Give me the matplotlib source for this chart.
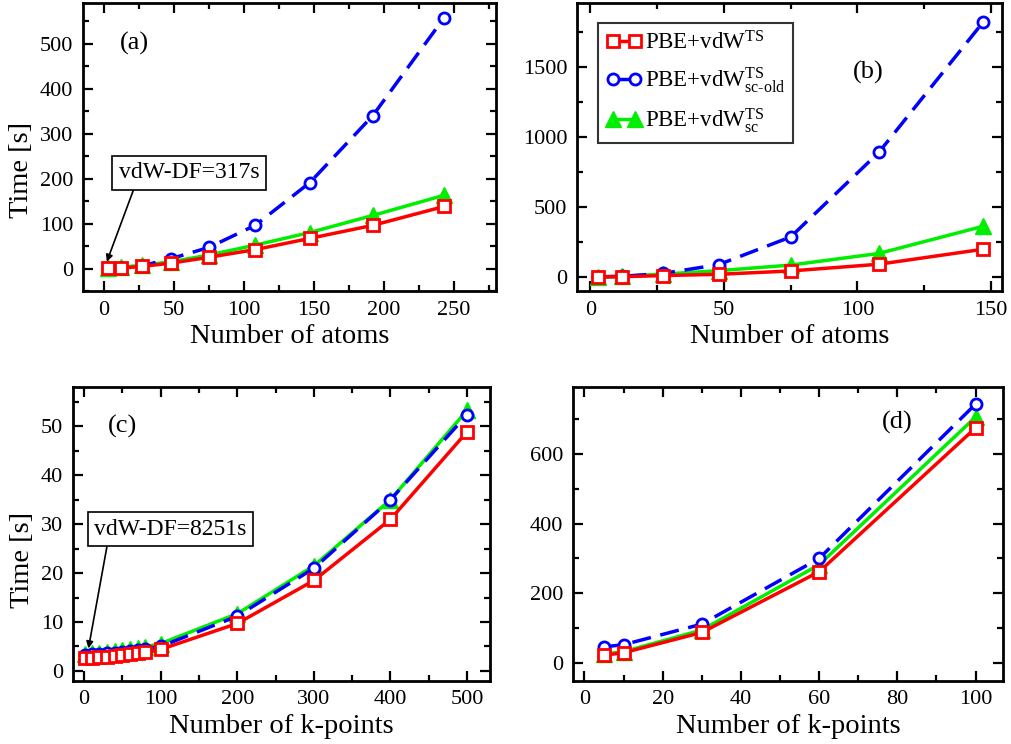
import numpy as np
import matplotlib
matplotlib.use("Agg")
import matplotlib.pyplot as plt
from matplotlib.ticker import MultipleLocator

plt.rcParams['font.family'] = ['Liberation Serif', 'DejaVu Serif']
plt.rcParams['mathtext.fontset'] = 'custom'
plt.rcParams['mathtext.rm'] = 'Liberation Serif'
plt.rcParams['mathtext.it'] = 'Liberation Serif:italic'

# ---- timings vs. number of atoms ----
atoms_a = [3, 12, 27, 48, 75, 108, 147, 192, 243]
a_ts = [0.3, 1, 4.5, 12, 25, 42, 67, 96, 138]
a_scold = [0.3, 1.5, 6, 22, 47, 96, 191, 340, 558]
a_sc = [0.5, 3, 7, 15, 30, 52, 80, 118, 163]

atoms_b = [3, 12, 27, 48, 75, 108, 147]
b_ts = [0.5, 2, 10, 19, 43, 91, 198]
b_scold = [1, 5, 25, 88, 286, 890, 1819]
b_sc = [1, 5, 20, 45, 85, 168, 362]

# ---- timings vs. number of k-points ----
kpts_c = [1, 10, 20, 30, 40, 50, 60, 70, 80, 100, 200, 300, 400, 500]
c_ts = [2.6, 2.7, 2.8, 2.9, 3.0, 3.2, 3.4, 3.6, 3.8, 4.4, 9.7, 18.5, 31, 48.9]
c_scold = [3.3, 3.4, 3.5, 3.6, 3.7, 3.8, 4.0, 4.2, 4.5, 5.0, 11.2, 21, 35, 52.4]
c_sc = [3.4, 3.6, 3.7, 3.8, 4.0, 4.2, 4.4, 4.6, 4.9, 5.6, 11.7, 21.5, 35, 53.3]

kpts_d = [5, 10, 30, 60, 100]
d_ts = [23, 30, 88, 262, 674]
d_scold = [47, 53, 112, 300, 742]
d_sc = [26, 33, 95, 282, 705]

labels = [r'PBE+vdW$^{\mathrm{TS}}$',
          r'PBE+vdW$^{\mathrm{TS}}_{\mathrm{sc\text{-}old}}$',
          r'PBE+vdW$^{\mathrm{TS}}_{\mathrm{sc}}$']

TICK_FS = 16
LABEL_FS = 20.5
TAG_FS = 19


def draw(ax, x, ts, scold, sc):
    ax.plot(x, sc, color='#00ee00', lw=2.5, marker='^', ms=11,
            mfc='#00ee00', mec='#00ee00', zorder=2, label=labels[2])
    ax.plot(x, scold, color='#0000ff', lw=2.5, dashes=(5.5, 2.8), marker='o',
            ms=8, mfc='white', mec='#0000ff', mew=2, zorder=3, label=labels[1])
    ax.plot(x, ts, color='#ff0000', lw=2.5, marker='s', ms=9,
            mfc='white', mec='#ff0000', mew=2, zorder=4, label=labels[0])


def style(ax, xmaj, ymaj):
    ax.xaxis.set_major_locator(MultipleLocator(xmaj))
    ax.xaxis.set_minor_locator(MultipleLocator(xmaj / 2))
    ax.yaxis.set_major_locator(MultipleLocator(ymaj))
    ax.yaxis.set_minor_locator(MultipleLocator(ymaj / 2))
    ax.tick_params(which='both', direction='in', top=True, right=True,
                   width=1.6, labelsize=TICK_FS)
    ax.tick_params(which='major', length=7, pad=7)
    ax.tick_params(which='minor', length=4)
    for s in ax.spines.values():
        s.set_linewidth(2)


def note(ax, text, tip, box, rel):
    ax.annotate(text, xy=tip, xytext=box, fontsize=17, ha='center', va='center',
                bbox=dict(boxstyle='square,pad=0.28', fc='white', ec='black', lw=1.2),
                arrowprops=dict(arrowstyle='-|>', color='black', lw=1.2,
                                mutation_scale=10, shrinkA=0, shrinkB=0,
                                relpos=rel))


fig = plt.figure(figsize=(10.12, 7.44), dpi=100)

ax_a = fig.add_axes([0.0820, 0.6089, 0.4081, 0.3867])
ax_b = fig.add_axes([0.5702, 0.6089, 0.4196, 0.3867])
ax_c = fig.add_axes([0.0718, 0.0851, 0.4124, 0.3943])
ax_d = fig.add_axes([0.5659, 0.0851, 0.4252, 0.3943])

# (a)
draw(ax_a, atoms_a, a_ts, a_scold, a_sc)
ax_a.set_xlim(-15, 280)
ax_a.set_ylim(-50, 590)
style(ax_a, 50, 100)
ax_a.set_xlabel('Number of atoms', fontsize=LABEL_FS, labelpad=3)
ax_a.set_ylabel('Time [s]', fontsize=LABEL_FS)
ax_a.yaxis.set_label_coords(-0.118, 0.42)
ax_a.text(22, 500, '(a)', fontsize=TAG_FS, ha='center', va='center')
note(ax_a, 'vdW-DF=317s', (2, 15), (61, 213), (0.12, 0.0))

# (b)
draw(ax_b, atoms_b, b_ts, b_scold, b_sc)
ax_b.set_xlim(-5, 154)
ax_b.set_ylim(-100, 1955)
style(ax_b, 50, 500)
ax_b.set_xlabel('Number of atoms', fontsize=LABEL_FS, labelpad=3)
ax_b.text(104, 1464, '(b)', fontsize=TAG_FS, ha='center', va='center')
h, l = ax_b.get_legend_handles_labels()
leg = ax_b.legend(h[::-1], l[::-1], loc='upper left',
                  bbox_to_anchor=(0.049, 0.932), fontsize=16.5,
                  frameon=True, fancybox=False, numpoints=2,
                  handlelength=1.55, handletextpad=0.15,
                  borderpad=0.35, labelspacing=0.5, borderaxespad=0)
leg.get_frame().set_edgecolor('black')
leg.get_frame().set_linewidth(1.5)

# (c)
draw(ax_c, kpts_c, c_ts, c_scold, c_sc)
ax_c.set_xlim(-15, 530)
ax_c.set_ylim(-2, 58)
style(ax_c, 100, 10)
ax_c.set_xlabel('Number of k-points', fontsize=LABEL_FS, labelpad=3)
ax_c.set_ylabel('Time [s]', fontsize=LABEL_FS)
ax_c.yaxis.set_label_coords(-0.09, 0.41)
ax_c.text(50, 50, '(c)', fontsize=TAG_FS, ha='center', va='center')
note(ax_c, 'vdW-DF=8251s', (5.6, 4.6), (113, 29), (0.09, 0.0))

# (d)
draw(ax_d, kpts_d, d_ts, d_scold, d_sc)
ax_d.set_xlim(-3, 107)
ax_d.set_ylim(-50, 790)
style(ax_d, 20, 200)
ax_d.set_xlabel('Number of k-points', fontsize=LABEL_FS, labelpad=3)
ax_d.text(80, 690, '(d)', fontsize=TAG_FS, ha='center', va='center')

fig.savefig('out.png', dpi=100)
